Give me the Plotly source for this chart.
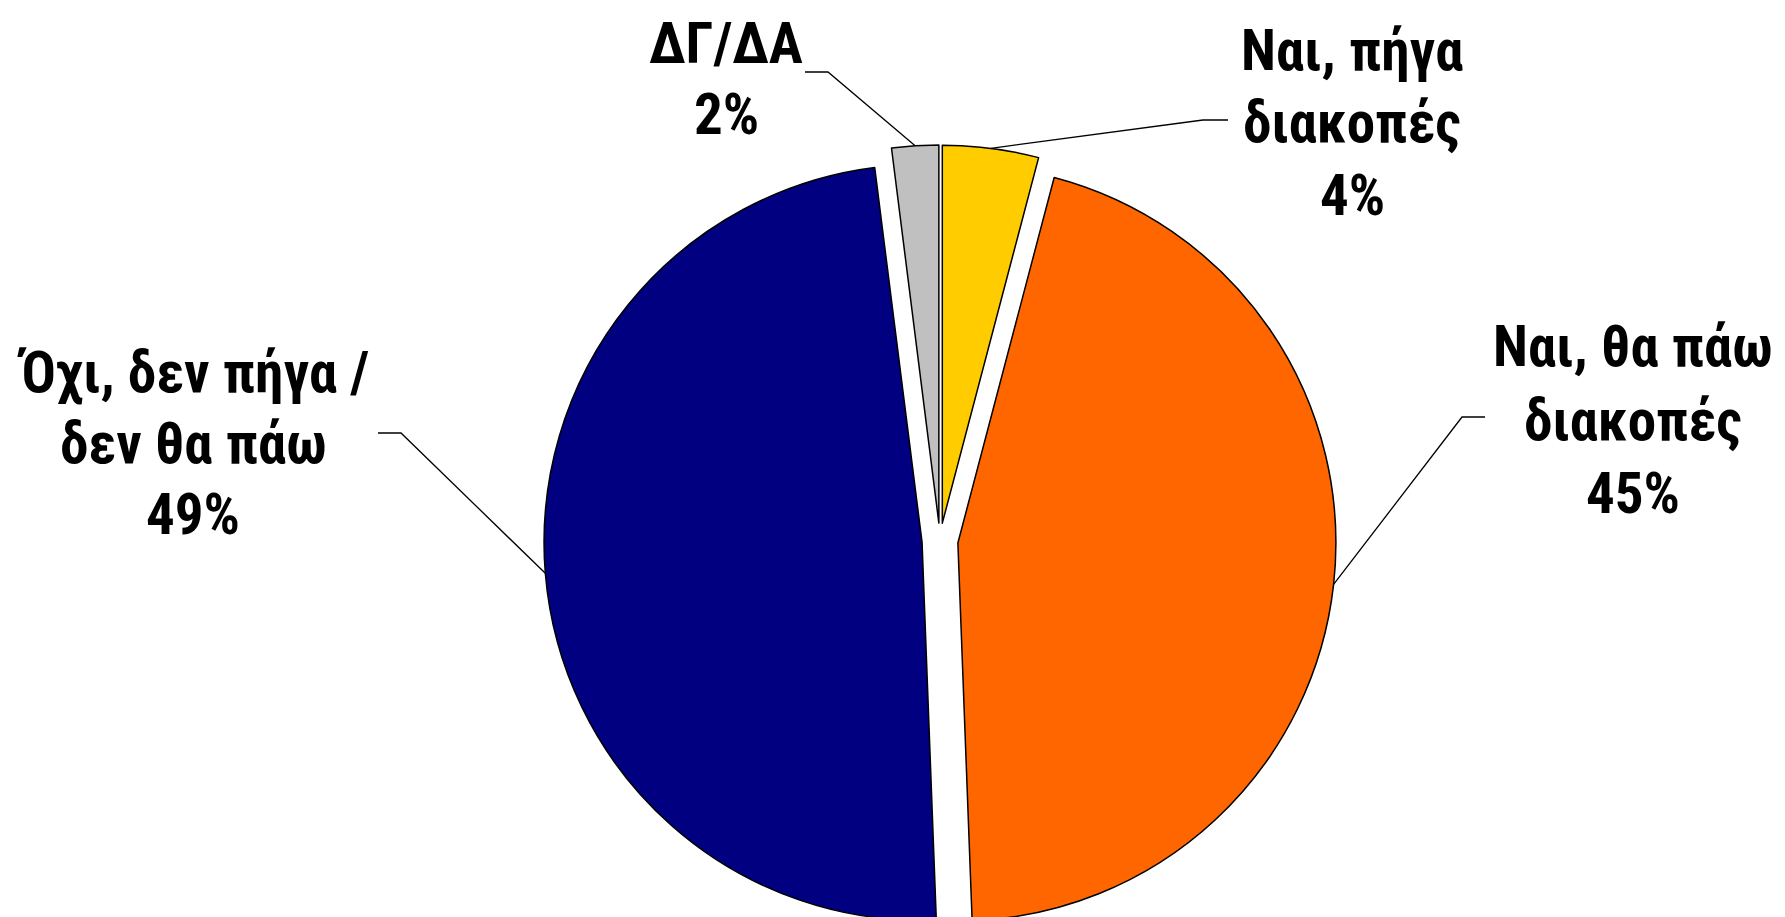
import plotly.graph_objects as go
import math

# ---- data ----
categories = ["Ναι, πήγα διακοπές", "Ναι, θα πάω διακοπές",
              "Όχι, δεν πήγα / δεν θα πάω", "ΔΓ/ΔΑ"]
label_lines = [["Ναι, πήγα", "διακοπές"],
               ["Ναι, θα πάω", "διακοπές"],
               ["Όχι, δεν πήγα /", "δεν θα πάω"],
               ["ΔΓ/ΔΑ"]]
values = [4.1, 45.3, 48.6, 2.0]
colors = ["#FFCC00", "#FF6600", "#000080", "#C0C0C0"]

# ---- layout (page pixels, converted below) ----
OFF = 8                     # default page margin around the plot div
W, H = 1785 - OFF, 1000
cx, cy = 940, 541           # pie centre (page px)
R_out = 396                 # outer reach of the pulled slices
pull = 0.0476
r = R_out / (1 + pull)
box = 2 * R_out

# label centres x and per-line baselines (page px)
label_x = [1352, 1633, 193, 726]
label_base = [[70, 142, 215], [366, 440, 513], [392, 463, 534], [63, 134]]
# leader: (x at label, x elbow, y)
leader_h = [(1228, 1203, 120), (1485, 1462, 417), (378, 401, 433), (805, 828, 72)]

FONT = "Roboto Condensed, Liberation Sans Narrow, Arial Narrow, sans-serif"
FSIZE = 57


def px(x, y):
    return (x - OFF) / W, 1 - (y - OFF) / H


fig = go.Figure()
fig.add_trace(go.Pie(
    labels=categories,
    values=values,
    marker=dict(colors=colors, line=dict(color="black", width=1.5)),
    pull=[pull] * len(values),
    sort=False,
    direction="clockwise",
    rotation=0,
    textinfo="none",
    hoverinfo="label+percent",
    showlegend=False,
    domain=dict(x=[(cx - OFF - box / 2) / W, (cx - OFF + box / 2) / W],
                y=[1 - (cy - OFF + box / 2) / H, 1 - (cy - OFF - box / 2) / H]),
))

total = sum(values)
cum = 0.0
annotations = []
shapes = []
for i, v in enumerate(values):
    a0 = cum / total * 360
    cum += v
    a1 = cum / total * 360
    mid = math.radians((a0 + a1) / 2)
    ex = cx + R_out * math.sin(mid)
    ey = cy - R_out * math.cos(mid)
    xo, xe, yl = leader_h[i]
    p0 = px(xo, yl)
    p1 = px(xe, yl)
    p2 = px(ex, ey)
    shapes.append(dict(
        type="path", xref="paper", yref="paper",
        path=f"M {p0[0]} {p0[1]} L {p1[0]} {p1[1]} L {p2[0]} {p2[1]}",
        line=dict(color="black", width=1.3),
    ))
    lines = label_lines[i] + [f"{round(v)}%"]
    for line, base in zip(lines, label_base[i]):
        lx, ly = px(label_x[i], base - 0.345 * FSIZE)
        annotations.append(dict(
            x=lx, y=ly, xref="paper", yref="paper",
            text=line, showarrow=False, align="center",
            xanchor="center", yanchor="middle",
            font=dict(family=FONT, size=FSIZE, color="black", weight="bold"),
        ))

fig.update_layout(
    width=W, height=H,
    margin=dict(l=0, r=0, t=0, b=0),
    paper_bgcolor="white",
    plot_bgcolor="white",
    annotations=annotations,
    shapes=shapes,
)

fig.write_html("out.html")
